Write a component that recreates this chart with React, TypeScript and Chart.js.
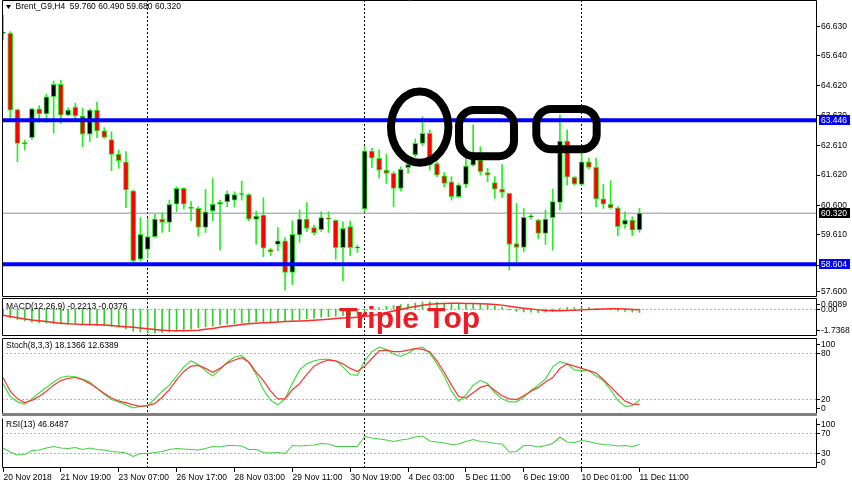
import React, { useEffect, useRef } from 'react';
import { Chart, registerables } from 'chart.js';

Chart.register(...registerables);

// ---------------- data ----------------
const symbolName = 'Brent_G9,H4';

const opens = [
  66.37, 66.37, 63.81, 62.67, 62.86, 63.83, 63.66, 64.24, 64.66, 63.62,
  63.89, 63.59, 62.98, 63.79, 63.09, 62.80, 62.31, 62.05, 61.07, 58.77,
  59.10, 59.53, 60.12, 60.01, 60.62, 61.16, 60.50, 60.48, 59.84, 60.40,
  60.62, 60.70, 60.76, 60.95, 60.95, 60.11, 60.26, 59.10, 59.27, 59.39,
  58.33, 59.59, 60.12, 59.84, 59.77, 60.15, 60.08, 59.16, 59.87, 59.14,
  60.46, 62.41, 62.17, 61.77, 61.66, 61.15, 61.85, 62.28, 62.67, 63.01,
  61.99, 61.58, 61.38, 60.88, 61.29, 61.94, 62.11, 61.69, 61.35, 61.13,
  60.99, 59.30, 59.17, 60.20, 60.09, 59.64, 60.17, 60.68, 62.75, 61.53,
  61.29, 62.05, 61.86, 60.80, 60.62, 60.50, 59.94, 60.09, 59.76,
];
const highs = [
  66.99, 66.43, 63.83, 62.78, 63.85, 63.94, 64.32, 64.77, 64.79, 63.87,
  64.02, 63.85, 63.83, 64.05, 63.20, 63.06, 62.45, 62.39, 61.10, 60.17,
  60.15, 60.28, 60.34, 60.76, 61.21, 61.18, 60.71, 60.54, 61.12, 61.49,
  60.76, 61.07, 61.04, 61.40, 60.97, 60.39, 60.84, 59.14, 59.84, 59.50,
  60.06, 60.43, 60.68, 59.92, 60.37, 60.37, 60.10, 60.03, 60.06, 59.25,
  62.56, 62.50, 62.45, 62.30, 61.72, 61.88, 62.05, 62.82, 63.57, 63.12,
  62.05, 61.69, 61.55, 61.32, 62.22, 63.29, 62.56, 61.83, 61.55, 61.96,
  61.00, 60.65, 60.48, 60.31, 60.12, 60.43, 61.13, 63.62, 63.12, 61.57,
  62.33, 62.17, 62.17, 61.29, 61.41, 60.54, 60.37, 60.20, 60.49,
];
const lows = [
  66.15, 63.40, 62.05, 62.45, 62.80, 63.38, 63.38, 63.01, 63.34, 63.60,
  63.40, 62.56, 62.73, 62.86, 62.84, 61.75, 61.83, 60.51, 58.66, 58.71,
  58.80, 59.50, 59.67, 59.70, 60.37, 60.46, 60.07, 59.55, 59.67, 60.07,
  59.08, 60.54, 60.54, 60.76, 60.06, 59.28, 58.86, 58.89, 59.06, 57.73,
  57.92, 59.34, 59.70, 59.59, 59.70, 59.67, 58.77, 58.04, 58.89, 59.00,
  60.37, 61.85, 61.51, 61.32, 60.54, 61.07, 61.66, 62.22, 62.59, 61.77,
  61.55, 61.21, 60.76, 60.84, 61.18, 61.90, 61.60, 61.38, 60.82, 60.84,
  58.41, 58.55, 59.02, 60.12, 59.47, 59.27, 59.08, 60.43, 61.27, 61.27,
  61.25, 61.80, 60.54, 60.48, 60.48, 59.56, 59.81, 59.56, 59.68,
];
const closes = [
  66.37, 63.79, 62.67, 62.66, 63.83, 63.66, 64.24, 64.66, 63.62, 63.79,
  63.59, 62.98, 63.79, 63.09, 62.87, 62.30, 62.09, 61.10, 58.72, 59.61,
  59.53, 60.12, 60.01, 60.62, 61.16, 60.62, 60.48, 59.84, 60.37, 60.62,
  60.69, 60.97, 60.95, 60.95, 60.12, 60.22, 59.14, 59.02, 59.39, 58.33,
  59.61, 60.12, 59.81, 59.66, 60.17, 60.12, 59.16, 59.81, 59.16, 59.14,
  62.41, 62.17, 61.77, 61.66, 61.15, 61.80, 61.96, 62.67, 63.01, 61.94,
  61.60, 61.32, 60.88, 61.27, 61.91, 62.20, 61.72, 61.60, 61.13, 61.02,
  59.27, 59.17, 60.18, 60.20, 59.64, 60.12, 60.71, 62.75, 61.53, 61.30,
  62.05, 61.86, 60.80, 60.62, 60.50, 59.87, 60.09, 59.75, 60.32,
];

const macdMain = [
  -0.45, -0.55, -0.66, -0.75, -0.82, -0.86, -0.88, -0.90, -0.93, -0.95,
  -0.95, -0.97, -1.00, -1.03, -1.06, -1.10, -1.15, -1.25, -1.40, -1.45,
  -1.50, -1.52, -1.48, -1.45, -1.40, -1.35, -1.25, -1.18, -1.12, -1.08,
  -1.00, -0.95, -0.92, -0.88, -0.85, -0.80, -0.80, -0.78, -0.75, -0.75,
  -0.72, -0.68, -0.62, -0.58, -0.52, -0.48, -0.45, -0.42, -0.40, -0.40,
  -0.20, -0.02, 0.10, 0.18, 0.22, 0.28, 0.32, 0.38, 0.45, 0.45,
  0.42, 0.38, 0.32, 0.30, 0.30, 0.32, 0.30, 0.26, 0.20, 0.12,
  -0.05, -0.15, -0.18, -0.20, -0.22, -0.20, -0.15, 0.05, 0.10, 0.10,
  0.12, 0.10, 0.05, 0.00, -0.05, -0.12, -0.15, -0.19, -0.2213,
];
const macdSignal = [
  -0.39, -0.47, -0.55, -0.62, -0.69, -0.74, -0.79, -0.84, -0.89, -0.93,
  -0.95, -0.97, -0.98, -0.99, -1.01, -1.04, -1.08, -1.11, -1.14, -1.19,
  -1.24, -1.29, -1.33, -1.36, -1.37, -1.37, -1.36, -1.34, -1.28, -1.22,
  -1.15, -1.09, -1.03, -0.98, -0.93, -0.89, -0.86, -0.84, -0.81, -0.79,
  -0.77, -0.75, -0.73, -0.70, -0.67, -0.64, -0.60, -0.57, -0.54, -0.51,
  -0.47, -0.40, -0.32, -0.22, -0.12, -0.02, 0.08, 0.16, 0.24, 0.30,
  0.34, 0.36, 0.37, 0.37, 0.36, 0.35, 0.34, 0.32, 0.29, 0.25,
  0.18, 0.11, 0.05, 0.00, -0.05, -0.09, -0.11, -0.11, -0.09, -0.07,
  -0.05, -0.03, -0.01, 0.01, 0.02, 0.02, 0.00, -0.02, -0.0376,
];

const stochMain = [
  40, 23, 16, 13, 20, 28, 35, 42, 48, 50,
  49, 46, 42, 34, 26, 19, 16, 12, 8, 10,
  11, 20, 30, 38, 50, 62, 70, 65, 57, 50,
  58, 68, 75, 77, 68, 52, 32, 18, 12, 20,
  40, 58, 66, 70, 72, 72, 70, 62, 52, 51,
  70, 82, 88, 85, 79, 76, 80, 86, 88, 80,
  66, 50, 30, 17, 25, 38, 44, 40, 28, 20,
  16, 16, 22, 31, 38, 46, 62, 69, 66, 58,
  57, 57, 50, 44, 32, 18, 10, 11, 18.1366,
];
const stochSignal = [
  48, 30, 20, 15, 18, 23, 30, 38, 44, 47,
  48, 45, 40, 34, 27, 21, 17, 15, 12, 10,
  11, 14, 22, 32, 45, 56, 63, 64, 60, 55,
  60, 67, 71, 74, 68, 55, 44, 30, 20, 20,
  32, 40, 52, 63, 68, 71, 70, 66, 60, 56,
  63, 73, 83, 84, 82, 82, 84, 86, 85, 82,
  70, 55, 38, 23, 21, 28, 35, 38, 31, 24,
  20, 19, 24, 30, 35, 42, 48, 60, 66, 63,
  60, 57, 54, 45, 36, 26, 17, 13, 12.6389,
];

const rsiValues = [
  40, 32, 26, 27, 35, 36, 40, 43, 40, 39,
  41, 37, 40, 37, 36, 33, 32, 30, 23, 29,
  29, 31, 33, 37, 39, 38, 37, 36, 39, 43,
  42, 45, 45, 44, 37, 37, 31, 30, 31, 29,
  45, 44, 45, 46, 49, 48, 43, 43, 43, 43,
  63, 60, 58, 56, 53, 56, 58, 62, 64, 54,
  52, 50, 47, 48, 53, 57, 53, 52, 49, 48,
  32, 33, 45, 45, 42, 45, 49, 62, 52, 51,
  55, 53, 49, 47, 46, 44, 45, 43, 46.8487,
];

const priceTicks = [66.63, 65.64, 64.62, 63.63, 62.61, 61.62, 60.6, 59.61, 58.59, 57.6];
const keyLevels = [63.446, 58.604];
const bidPrice = 60.32;
const macdAxisValues = [0.6089, 0, -1.7368];
const macdAxisLabels = ['0.6089', '0.00', '-1.7368'];
const stochAxisValues = [100, 80, 20, 0];
const stochLevels = [80, 20];
const rsiAxisValues = [100, 70, 30, 0];
const rsiLevels = [70, 30];
const separatorBars = [20, 50, 80];
const timeLabelBars = [0, 8, 16, 24, 32, 40, 48, 56, 64, 72, 80, 88];
const timeLabels = [
  '20 Nov 2018', '21 Nov 19:00', '23 Nov 07:00', '26 Nov 17:00', '28 Nov 03:00', '29 Nov 11:00',
  '30 Nov 19:00', '4 Dec 03:00', '5 Dec 11:00', '6 Dec 19:00', '10 Dec 01:00', '11 Dec 11:00',
];
// hand-drawn marks (in bar / price units)
const markEllipses = [{ bar: 57.61, price: 63.217, barRadius: 3.97, priceRadius: 1.2 }];
const markBoxes = [
  { bar0: 63.05, bar1: 70.65, priceTop: 63.79, priceBottom: 62.24 },
  { bar0: 73.73, bar1: 82.08, priceTop: 63.83, priceBottom: 62.47 },
];

// ---------------- layout ----------------
const W = 852;
const PLOT_LEFT = 2;
const PLOT_RIGHT = 817;
const FIRST_BAR_X = 3;
const BAR_STEP = 7.233;
const X_MIN = (PLOT_LEFT - FIRST_BAR_X) / BAR_STEP;
const X_MAX = (PLOT_RIGHT - FIRST_BAR_X) / BAR_STEP;
const SMALL_FONT = '8.5px "Liberation Sans", Arial, sans-serif';
const CANDLE_GREEN = '#22ee22';

const last = opens.length - 1;
const f3 = (v: number) => v.toFixed(3);
const f4 = (v: number) => v.toFixed(4);

function roundRectPath(ctx: CanvasRenderingContext2D, x: number, y: number, w: number, h: number, r: number) {
  ctx.beginPath();
  ctx.moveTo(x + r, y);
  ctx.lineTo(x + w - r, y);
  ctx.arcTo(x + w, y, x + w, y + r, r);
  ctx.lineTo(x + w, y + h - r);
  ctx.arcTo(x + w, y + h, x + w - r, y + h, r);
  ctx.lineTo(x + r, y + h);
  ctx.arcTo(x, y + h, x, y + h - r, r);
  ctx.lineTo(x, y + r);
  ctx.arcTo(x, y, x + r, y, r);
  ctx.closePath();
}

function panelPlugin(spec: any) {
  return {
    id: 'mt4panel',
    beforeDatasetsDraw(chart: any) {
      const { ctx, chartArea: a, scales } = chart;
      const xs = scales.x;
      const ys = scales.y;
      ctx.save();
      ctx.lineWidth = 1;
      ctx.setLineDash([2, 2]);
      ctx.strokeStyle = '#b4b4b4';
      spec.dashedLevels.forEach((v: number) => {
        const y = Math.round(ys.getPixelForValue(v)) + 0.5;
        ctx.beginPath();
        ctx.moveTo(a.left, y);
        ctx.lineTo(a.right, y);
        ctx.stroke();
      });
      ctx.strokeStyle = '#000';
      separatorBars.forEach((b) => {
        const x = Math.floor(xs.getPixelForValue(b)) + 0.5;
        ctx.beginPath();
        ctx.moveTo(x, a.top);
        ctx.lineTo(x, a.bottom);
        ctx.stroke();
      });
      ctx.restore();
    },
    afterDatasetsDraw(chart: any) {
      const { ctx, chartArea: a, scales } = chart;
      const xs = scales.x;
      const ys = scales.y;
      ctx.save();
      ctx.setLineDash([]);
      // hand-drawn marks
      ctx.strokeStyle = '#000';
      ctx.lineWidth = 8;
      (spec.ellipses || []).forEach((e: any) => {
        const cx = xs.getPixelForValue(e.bar);
        const cy = ys.getPixelForValue(e.price);
        const rx = xs.getPixelForValue(e.bar + e.barRadius) - cx;
        const ry = cy - ys.getPixelForValue(e.price + e.priceRadius);
        ctx.beginPath();
        ctx.ellipse(cx, cy, rx, ry, 0, 0, Math.PI * 2);
        ctx.stroke();
      });
      (spec.boxes || []).forEach((b: any) => {
        const x0 = xs.getPixelForValue(b.bar0);
        const x1 = xs.getPixelForValue(b.bar1);
        const y0 = ys.getPixelForValue(b.priceTop);
        const y1 = ys.getPixelForValue(b.priceBottom);
        roundRectPath(ctx, x0, y0, x1 - x0, y1 - y0, 15);
        ctx.stroke();
      });
      // frame
      ctx.lineWidth = 1;
      ctx.strokeStyle = '#000';
      const L = a.left + 0.5;
      const R = a.right - 0.5;
      const T = a.top + 0.5;
      const B = a.bottom - 0.5;
      ctx.beginPath();
      ctx.moveTo(L, T);
      ctx.lineTo(L, B);
      ctx.lineTo(R, B);
      ctx.lineTo(R, T);
      if (spec.frameTop) ctx.lineTo(L, T);
      ctx.stroke();
      if (spec.band) {
        ctx.fillStyle = '#808080';
        ctx.fillRect(a.left, a.bottom - 1, a.right - a.left, 3);
      }
      // right axis labels
      ctx.font = SMALL_FONT;
      ctx.textBaseline = 'middle';
      ctx.textAlign = 'left';
      ctx.fillStyle = '#000';
      spec.axisValues.forEach((v: number, k: number) => {
        let y = ys.getPixelForValue(v);
        y = Math.min(Math.max(y, a.top + 6), a.bottom - 6);
        ctx.fillRect(a.right, Math.round(y), 3, 1);
        ctx.fillText(spec.axisLabels[k], a.right + 4, y + 0.5);
      });
      (spec.tags || []).forEach((t: any) => {
        const y = ys.getPixelForValue(t.value);
        ctx.fillStyle = t.bg;
        ctx.fillRect(a.right + 2, Math.round(y) - 5, 31, 10);
        ctx.fillStyle = '#fff';
        ctx.fillText(t.text, a.right + 4, Math.round(y) + 0.5);
      });
      // title
      ctx.fillStyle = '#000';
      let tx = 6;
      if (spec.marker) {
        ctx.beginPath();
        ctx.moveTo(6, spec.titleY - 2);
        ctx.lineTo(11, spec.titleY - 2);
        ctx.lineTo(8.5, spec.titleY + 2);
        ctx.closePath();
        ctx.fill();
        tx = 15.5;
      }
      ctx.fillText(spec.title, tx, spec.titleY);
      // time axis
      if (spec.timeAxis) {
        timeLabelBars.forEach((b, k) => {
          const x = Math.floor(xs.getPixelForValue(b));
          ctx.fillRect(x, a.bottom, 1, 4);
          ctx.fillText(timeLabels[k], x + 0.5, a.bottom + 10);
        });
      }
      ctx.restore();
    },
  };
}

function baseConfig(datasets: any[], yMin: number, yMax: number, padTop: number, padBottom: number, spec: any) {
  return {
    type: 'bar',
    data: { datasets },
    options: {
      animation: false,
      responsive: false,
      events: [],
      layout: { padding: { left: PLOT_LEFT, right: W - PLOT_RIGHT, top: padTop, bottom: padBottom } },
      plugins: { legend: { display: false }, tooltip: { enabled: false } },
      scales: {
        x: { type: 'linear', min: X_MIN, max: X_MAX, display: false, offset: false },
        y: { type: 'linear', min: yMin, max: yMax, display: false },
      },
    },
    plugins: [panelPlugin(spec)],
  } as any;
}

const hLine = (value: number) => [
  { x: X_MIN, y: value },
  { x: X_MAX, y: value },
];

function mainConfig() {
  const datasets = [
    { type: 'line', data: hLine(bidPrice), borderColor: '#8796a8', borderWidth: 1, pointRadius: 0, order: 5, clip: 0 },
    {
      type: 'bar',
      data: lows.map((l, i) => ({ x: i, y: [l, highs[i]] })),
      backgroundColor: CANDLE_GREEN,
      barThickness: 1,
      grouped: false,
      order: 4,
      clip: 0,
    },
    {
      type: 'bar',
      data: opens.map((o, i) => ({ x: i, y: [o, closes[i]] })),
      backgroundColor: opens.map((o, i) => (closes[i] >= o ? '#000000' : '#ff0000')),
      borderColor: CANDLE_GREEN,
      borderWidth: 1,
      borderSkipped: false,
      barThickness: 5,
      minBarLength: 1,
      grouped: false,
      order: 3,
      clip: 0,
    },
    ...keyLevels.map((v) => ({
      type: 'line', data: hLine(v), borderColor: '#0000ff', borderWidth: 4, pointRadius: 0, order: 1, clip: 0,
    })),
  ];
  return baseConfig(datasets, 57.5, 67.495, 0, 0, {
    title: `${symbolName}  ${f3(opens[last])} ${f3(highs[last])} ${f3(lows[last])} ${f3(closes[last])}`,
    titleY: 7,
    marker: true,
    axisValues: priceTicks,
    axisLabels: priceTicks.map(f3),
    dashedLevels: [],
    tags: [
      ...keyLevels.map((v) => ({ value: v, text: f3(v), bg: '#0000ff' })),
      { value: bidPrice, text: f3(bidPrice), bg: '#000000' },
    ],
    ellipses: markEllipses,
    boxes: markBoxes,
    frameTop: true,
  });
}

function macdConfig() {
  const datasets = [
    {
      type: 'bar',
      data: macdMain.map((v, i) => ({ x: i, y: v })),
      backgroundColor: '#2bd02b',
      barThickness: 1,
      grouped: false,
      order: 2,
      clip: 0,
    },
    {
      type: 'line',
      data: macdSignal.map((v, i) => ({ x: i, y: v })),
      borderColor: '#ff2a2a',
      borderWidth: 1.5,
      pointRadius: 0,
      order: 1,
    },
  ];
  return baseConfig(datasets, -1.7, 0.7, 0, 0, {
    title: `MACD(12,26,9) ${f4(macdMain[last])} ${f4(macdSignal[last])}`,
    titleY: 8.7,
    axisValues: macdAxisValues,
    axisLabels: macdAxisLabels,
    dashedLevels: [0],
    frameTop: true,
  });
}

function stochConfig() {
  const datasets = [
    {
      type: 'line',
      data: stochMain.map((v, i) => ({ x: i, y: v })),
      borderColor: '#44dd44',
      borderWidth: 1.2,
      pointRadius: 0,
      order: 2,
    },
    {
      type: 'line',
      data: stochSignal.map((v, i) => ({ x: i, y: v })),
      borderColor: '#ff3333',
      borderWidth: 1.2,
      pointRadius: 0,
      order: 1,
    },
  ];
  return baseConfig(datasets, 0, 100, 1, 2, {
    title: `Stoch(8,3,3) ${f4(stochMain[last])} ${f4(stochSignal[last])}`,
    titleY: 8.3,
    axisValues: stochAxisValues,
    axisLabels: stochAxisValues.map(String),
    dashedLevels: stochLevels,
    frameTop: true,
    band: true,
  });
}

function rsiConfig() {
  const datasets = [
    {
      type: 'line',
      data: rsiValues.map((v, i) => ({ x: i, y: v })),
      borderColor: '#44d044',
      borderWidth: 1.1,
      pointRadius: 0,
      order: 1,
    },
  ];
  return baseConfig(datasets, 0, 100, 2, 17, {
    title: `RSI(13) ${f4(rsiValues[last])}`,
    titleY: 8.3,
    axisValues: rsiAxisValues,
    axisLabels: rsiAxisValues.map(String),
    dashedLevels: rsiLevels,
    frameTop: false,
    timeAxis: true,
  });
}

export default function App() {
  const mainRef = useRef<HTMLCanvasElement>(null);
  const macdRef = useRef<HTMLCanvasElement>(null);
  const stochRef = useRef<HTMLCanvasElement>(null);
  const rsiRef = useRef<HTMLCanvasElement>(null);

  useEffect(() => {
    const charts = [
      new Chart(mainRef.current as HTMLCanvasElement, mainConfig()),
      new Chart(macdRef.current as HTMLCanvasElement, macdConfig()),
      new Chart(stochRef.current as HTMLCanvasElement, stochConfig()),
      new Chart(rsiRef.current as HTMLCanvasElement, rsiConfig()),
    ];
    return () => charts.forEach((c) => c.destroy());
  }, []);

  const cv = (top: number, h: number): React.CSSProperties => ({
    position: 'absolute', left: 0, top, width: W, height: h, display: 'block',
  });

  return (
    <div style={{ position: 'fixed', left: 0, top: 0, width: W, height: 485, background: '#fff', overflow: 'hidden' }}>
      <canvas ref={mainRef} width={W} height={297} style={cv(0, 297)} />
      <canvas ref={macdRef} width={W} height={38} style={cv(298, 38)} />
      <canvas ref={stochRef} width={W} height={79} style={cv(337, 79)} />
      <canvas ref={rsiRef} width={W} height={69} style={cv(416, 69)} />
      <div
        style={{
          position: 'absolute', left: 339, top: 303, zIndex: 2, whiteSpace: 'nowrap',
          font: 'bold 30px "Liberation Sans", Arial, sans-serif', lineHeight: '30px', color: '#ed1c24',
        }}
      >
        Triple Top
      </div>
    </div>
  );
}
